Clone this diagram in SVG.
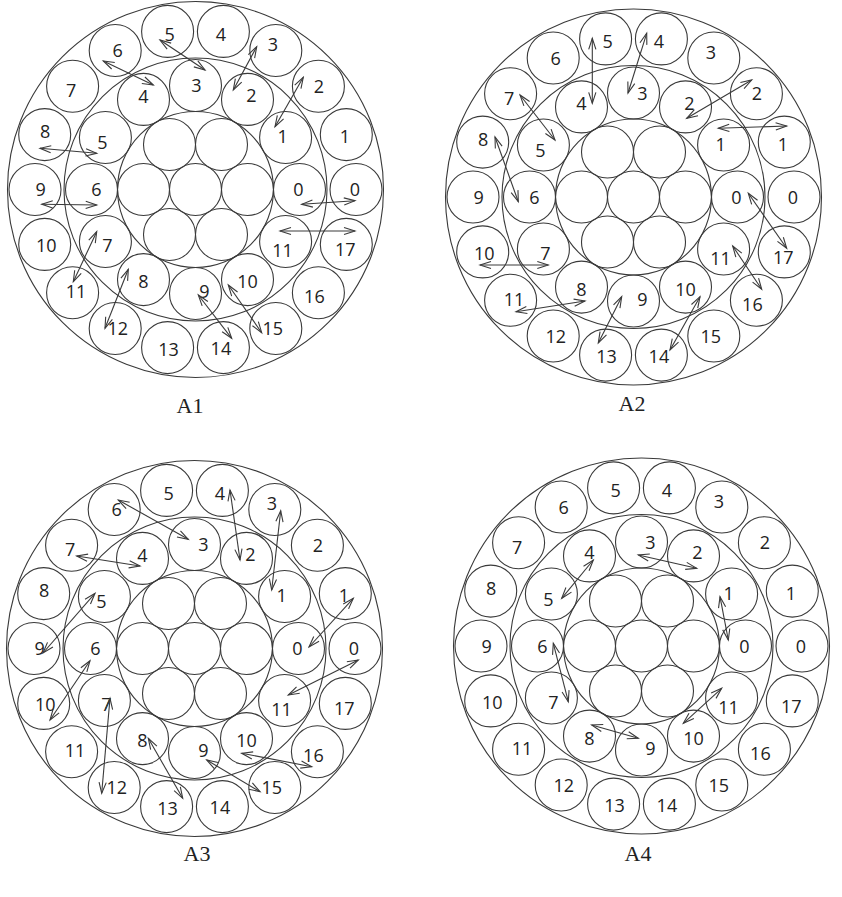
<svg xmlns="http://www.w3.org/2000/svg" xmlns:xlink="http://www.w3.org/1999/xlink" width="842" height="897" viewBox="0 0 842 897">
<defs>
<style>
.c{fill:none;stroke:#3a3a3a;stroke-width:1.1}
.t{font-family:"Open Sans","Noto Sans",sans-serif;font-size:18px;fill:#222;text-anchor:middle}
.ttl{font-family:"Liberation Serif","Times New Roman",serif;font-size:22px;fill:#222;text-anchor:middle}
.ar{fill:none;stroke:#3a3a3a;stroke-width:1.1;marker-start:url(#ah);marker-end:url(#ah)}
</style>
<marker id="ah" markerUnits="userSpaceOnUse" markerWidth="14" markerHeight="10" viewBox="-12 -5 14 10" refX="0" refY="0" orient="auto-start-reverse"><path d="M-11,-3.6 L0,0 L-11,3.6" fill="none" stroke="#3a3a3a" stroke-width="1.1"/></marker>
</defs>
<rect width="842" height="897" fill="#fff"/>

<!-- ================= A1 ================= -->
<g id="A1" transform="translate(195.5,189.5)">
<g id="a1-bounds"><circle class="c" r="188"/><circle class="c" r="131.5"/><circle class="c" r="78"/></g>
<g id="a1-core"><circle class="c" cx="0" cy="0" r="26"/><circle class="c" cx="-52" cy="0" r="26"/><circle class="c" cx="52" cy="0" r="26"/><circle class="c" cx="-26" cy="-45" r="26"/><circle class="c" cx="26" cy="-45" r="26"/><circle class="c" cx="-26" cy="45" r="26"/><circle class="c" cx="26" cy="45" r="26"/></g>
<g id="a1-o0"><circle class="c" cx="160.5" cy="0" r="26"/><text class="t" x="159.5" y="6.5">0</text></g>
<g id="a1-o1"><circle class="c" cx="150.8" cy="-54.9" r="26"/><text class="t" x="149.3" y="-46.4">1</text></g>
<g id="a1-o2"><circle class="c" cx="122.9" cy="-103.2" r="26"/><text class="t" x="123.4" y="-96.7">2</text></g>
<g id="a1-o3"><circle class="c" cx="80.3" cy="-139" r="26"/><text class="t" x="77.3" y="-138.5">3</text></g>
<g id="a1-o4"><circle class="c" cx="27.9" cy="-158.1" r="26"/><text class="t" x="25.4" y="-148.6">4</text></g>
<g id="a1-o5"><circle class="c" cx="-27.9" cy="-158.1" r="26"/><text class="t" x="-25.9" y="-148.6">5</text></g>
<g id="a1-o6"><circle class="c" cx="-80.3" cy="-139" r="26"/><text class="t" x="-77.8" y="-132.5">6</text></g>
<g id="a1-o7"><circle class="c" cx="-122.9" cy="-103.2" r="26"/><text class="t" x="-124.4" y="-92.2">7</text></g>
<g id="a1-o8"><circle class="c" cx="-150.8" cy="-54.9" r="26"/><text class="t" x="-150.3" y="-51.4">8</text></g>
<g id="a1-o9"><circle class="c" cx="-160.5" cy="0" r="26"/><text class="t" x="-154.8" y="6.5">9</text></g>
<g id="a1-o10"><circle class="c" cx="-150.8" cy="54.9" r="26"/><text class="t" x="-149.3" y="62.9">10</text></g>
<g id="a1-o11"><circle class="c" cx="-122.9" cy="103.2" r="26"/><text class="t" x="-119.4" y="108.7">11</text></g>
<g id="a1-o12"><circle class="c" cx="-80.3" cy="139" r="26"/><text class="t" x="-77.8" y="145.5">12</text></g>
<g id="a1-o13"><circle class="c" cx="-27.9" cy="158.1" r="26"/><text class="t" x="-26.9" y="166.1">13</text></g>
<g id="a1-o14"><circle class="c" cx="27.9" cy="158.1" r="26"/><text class="t" x="25.4" y="165.6">14</text></g>
<g id="a1-o15"><circle class="c" cx="80.3" cy="139" r="26"/><text class="t" x="77.3" y="145.5">15</text></g>
<g id="a1-o16"><circle class="c" cx="122.9" cy="103.2" r="26"/><text class="t" x="118.9" y="113.7">16</text></g>
<g id="a1-o17"><circle class="c" cx="150.8" cy="54.9" r="26"/><text class="t" x="149.8" y="66.9">17</text></g>
<g id="a1-m0"><circle class="c" cx="104" cy="0" r="26"/><text class="t" x="103" y="6.5">0</text></g>
<g id="a1-m1"><circle class="c" cx="90.1" cy="-52" r="26"/><text class="t" x="87.1" y="-46.5">1</text></g>
<g id="a1-m2"><circle class="c" cx="52" cy="-90.1" r="26"/><text class="t" x="56" y="-87.1">2</text></g>
<g id="a1-m3"><circle class="c" cx="0" cy="-104" r="26"/><text class="t" x="1" y="-97.5">3</text></g>
<g id="a1-m4"><circle class="c" cx="-52" cy="-90.1" r="26"/><text class="t" x="-52" y="-86.6">4</text></g>
<g id="a1-m5"><circle class="c" cx="-90.1" cy="-52" r="26"/><text class="t" x="-93.1" y="-40.5">5</text></g>
<g id="a1-m6"><circle class="c" cx="-104" cy="0" r="26"/><text class="t" x="-99" y="6.5">6</text></g>
<g id="a1-m7"><circle class="c" cx="-90.1" cy="52" r="26"/><text class="t" x="-88.1" y="62.5">7</text></g>
<g id="a1-m8"><circle class="c" cx="-52" cy="90.1" r="26"/><text class="t" x="-52" y="98.6">8</text></g>
<g id="a1-m9"><circle class="c" cx="0" cy="104" r="26"/><text class="t" x="9" y="108.5">9</text></g>
<g id="a1-m10"><circle class="c" cx="52" cy="90.1" r="26"/><text class="t" x="52" y="98.6">10</text></g>
<g id="a1-m11"><circle class="c" cx="90.1" cy="52" r="26"/><text class="t" x="87.1" y="67.5">11</text></g>
</g>

<!-- ================= A2 ================= -->
<g id="A2" transform="translate(633.5,197)">
<g id="a2-bounds"><circle class="c" r="188"/><circle class="c" r="131.5"/><circle class="c" r="78"/></g>
<g id="a2-core"><circle class="c" cx="0" cy="0" r="26"/><circle class="c" cx="-52" cy="0" r="26"/><circle class="c" cx="52" cy="0" r="26"/><circle class="c" cx="-26" cy="-45" r="26"/><circle class="c" cx="26" cy="-45" r="26"/><circle class="c" cx="-26" cy="45" r="26"/><circle class="c" cx="26" cy="45" r="26"/></g>
<g id="a2-o0"><circle class="c" cx="160.5" cy="0" r="26"/><text class="t" x="159.5" y="6.5">0</text></g>
<g id="a2-o1"><circle class="c" cx="150.8" cy="-54.9" r="26"/><text class="t" x="149.3" y="-46.4">1</text></g>
<g id="a2-o2"><circle class="c" cx="122.9" cy="-103.2" r="26"/><text class="t" x="123.4" y="-96.7">2</text></g>
<g id="a2-o3"><circle class="c" cx="80.3" cy="-139" r="26"/><text class="t" x="77.3" y="-138.5">3</text></g>
<g id="a2-o4"><circle class="c" cx="27.9" cy="-158.1" r="26"/><text class="t" x="25.4" y="-148.6">4</text></g>
<g id="a2-o5"><circle class="c" cx="-27.9" cy="-158.1" r="26"/><text class="t" x="-25.9" y="-148.6">5</text></g>
<g id="a2-o6"><circle class="c" cx="-80.3" cy="-139" r="26"/><text class="t" x="-77.8" y="-132.5">6</text></g>
<g id="a2-o7"><circle class="c" cx="-122.9" cy="-103.2" r="26"/><text class="t" x="-124.4" y="-92.2">7</text></g>
<g id="a2-o8"><circle class="c" cx="-150.8" cy="-54.9" r="26"/><text class="t" x="-150.3" y="-51.4">8</text></g>
<g id="a2-o9"><circle class="c" cx="-160.5" cy="0" r="26"/><text class="t" x="-154.8" y="6.5">9</text></g>
<g id="a2-o10"><circle class="c" cx="-150.8" cy="54.9" r="26"/><text class="t" x="-149.3" y="62.9">10</text></g>
<g id="a2-o11"><circle class="c" cx="-122.9" cy="103.2" r="26"/><text class="t" x="-119.4" y="108.7">11</text></g>
<g id="a2-o12"><circle class="c" cx="-80.3" cy="139" r="26"/><text class="t" x="-77.8" y="145.5">12</text></g>
<g id="a2-o13"><circle class="c" cx="-27.9" cy="158.1" r="26"/><text class="t" x="-26.9" y="166.1">13</text></g>
<g id="a2-o14"><circle class="c" cx="27.9" cy="158.1" r="26"/><text class="t" x="25.4" y="165.6">14</text></g>
<g id="a2-o15"><circle class="c" cx="80.3" cy="139" r="26"/><text class="t" x="77.3" y="145.5">15</text></g>
<g id="a2-o16"><circle class="c" cx="122.9" cy="103.2" r="26"/><text class="t" x="118.9" y="113.7">16</text></g>
<g id="a2-o17"><circle class="c" cx="150.8" cy="54.9" r="26"/><text class="t" x="149.8" y="66.9">17</text></g>
<g id="a2-m0"><circle class="c" cx="104" cy="0" r="26"/><text class="t" x="103" y="6.5">0</text></g>
<g id="a2-m1"><circle class="c" cx="90.1" cy="-52" r="26"/><text class="t" x="87.1" y="-46.5">1</text></g>
<g id="a2-m2"><circle class="c" cx="52" cy="-90.1" r="26"/><text class="t" x="56" y="-87.1">2</text></g>
<g id="a2-m3"><circle class="c" cx="0" cy="-104" r="26"/><text class="t" x="9" y="-97.5">3</text></g>
<g id="a2-m4"><circle class="c" cx="-52" cy="-90.1" r="26"/><text class="t" x="-52" y="-86.6">4</text></g>
<g id="a2-m5"><circle class="c" cx="-90.1" cy="-52" r="26"/><text class="t" x="-93.1" y="-40.5">5</text></g>
<g id="a2-m6"><circle class="c" cx="-104" cy="0" r="26"/><text class="t" x="-99" y="6.5">6</text></g>
<g id="a2-m7"><circle class="c" cx="-90.1" cy="52" r="26"/><text class="t" x="-88.1" y="62.5">7</text></g>
<g id="a2-m8"><circle class="c" cx="-52" cy="90.1" r="26"/><text class="t" x="-52" y="98.6">8</text></g>
<g id="a2-m9"><circle class="c" cx="0" cy="104" r="26"/><text class="t" x="9" y="108.5">9</text></g>
<g id="a2-m10"><circle class="c" cx="52" cy="90.1" r="26"/><text class="t" x="52" y="98.6">10</text></g>
<g id="a2-m11"><circle class="c" cx="90.1" cy="52" r="26"/><text class="t" x="87.1" y="67.5">11</text></g>
</g>

<!-- ================= A3 ================= -->
<g id="A3" transform="translate(194.5,648.5)">
<g id="a3-bounds"><circle class="c" r="188"/><circle class="c" r="131.5"/><circle class="c" r="78"/></g>
<g id="a3-core"><circle class="c" cx="0" cy="0" r="26"/><circle class="c" cx="-52" cy="0" r="26"/><circle class="c" cx="52" cy="0" r="26"/><circle class="c" cx="-26" cy="-45" r="26"/><circle class="c" cx="26" cy="-45" r="26"/><circle class="c" cx="-26" cy="45" r="26"/><circle class="c" cx="26" cy="45" r="26"/></g>
<g id="a3-o0"><circle class="c" cx="160.5" cy="0" r="26"/><text class="t" x="159.5" y="6.5">0</text></g>
<g id="a3-o1"><circle class="c" cx="150.8" cy="-54.9" r="26"/><text class="t" x="149.3" y="-46.4">1</text></g>
<g id="a3-o2"><circle class="c" cx="122.9" cy="-103.2" r="26"/><text class="t" x="123.4" y="-96.7">2</text></g>
<g id="a3-o3"><circle class="c" cx="80.3" cy="-139" r="26"/><text class="t" x="77.3" y="-138.5">3</text></g>
<g id="a3-o4"><circle class="c" cx="27.9" cy="-158.1" r="26"/><text class="t" x="25.4" y="-148.6">4</text></g>
<g id="a3-o5"><circle class="c" cx="-27.9" cy="-158.1" r="26"/><text class="t" x="-25.9" y="-148.6">5</text></g>
<g id="a3-o6"><circle class="c" cx="-80.3" cy="-139" r="26"/><text class="t" x="-77.8" y="-132.5">6</text></g>
<g id="a3-o7"><circle class="c" cx="-122.9" cy="-103.2" r="26"/><text class="t" x="-124.4" y="-92.2">7</text></g>
<g id="a3-o8"><circle class="c" cx="-150.8" cy="-54.9" r="26"/><text class="t" x="-150.3" y="-51.4">8</text></g>
<g id="a3-o9"><circle class="c" cx="-160.5" cy="0" r="26"/><text class="t" x="-154.8" y="6.5">9</text></g>
<g id="a3-o10"><circle class="c" cx="-150.8" cy="54.9" r="26"/><text class="t" x="-149.3" y="62.9">10</text></g>
<g id="a3-o11"><circle class="c" cx="-122.9" cy="103.2" r="26"/><text class="t" x="-119.4" y="108.7">11</text></g>
<g id="a3-o12"><circle class="c" cx="-80.3" cy="139" r="26"/><text class="t" x="-77.8" y="145.5">12</text></g>
<g id="a3-o13"><circle class="c" cx="-27.9" cy="158.1" r="26"/><text class="t" x="-26.9" y="166.1">13</text></g>
<g id="a3-o14"><circle class="c" cx="27.9" cy="158.1" r="26"/><text class="t" x="25.4" y="165.6">14</text></g>
<g id="a3-o15"><circle class="c" cx="80.3" cy="139" r="26"/><text class="t" x="77.3" y="145.5">15</text></g>
<g id="a3-o16"><circle class="c" cx="122.9" cy="103.2" r="26"/><text class="t" x="118.9" y="113.7">16</text></g>
<g id="a3-o17"><circle class="c" cx="150.8" cy="54.9" r="26"/><text class="t" x="149.8" y="66.9">17</text></g>
<g id="a3-m0"><circle class="c" cx="104" cy="0" r="26"/><text class="t" x="103" y="6.5">0</text></g>
<g id="a3-m1"><circle class="c" cx="90.1" cy="-52" r="26"/><text class="t" x="87.1" y="-46.5">1</text></g>
<g id="a3-m2"><circle class="c" cx="52" cy="-90.1" r="26"/><text class="t" x="56" y="-87.1">2</text></g>
<g id="a3-m3"><circle class="c" cx="0" cy="-104" r="26"/><text class="t" x="9" y="-97.5">3</text></g>
<g id="a3-m4"><circle class="c" cx="-52" cy="-90.1" r="26"/><text class="t" x="-52" y="-86.6">4</text></g>
<g id="a3-m5"><circle class="c" cx="-90.1" cy="-52" r="26"/><text class="t" x="-93.1" y="-40.5">5</text></g>
<g id="a3-m6"><circle class="c" cx="-104" cy="0" r="26"/><text class="t" x="-99" y="6.5">6</text></g>
<g id="a3-m7"><circle class="c" cx="-90.1" cy="52" r="26"/><text class="t" x="-88.1" y="62.5">7</text></g>
<g id="a3-m8"><circle class="c" cx="-52" cy="90.1" r="26"/><text class="t" x="-52" y="98.6">8</text></g>
<g id="a3-m9"><circle class="c" cx="0" cy="104" r="26"/><text class="t" x="9" y="108.5">9</text></g>
<g id="a3-m10"><circle class="c" cx="52" cy="90.1" r="26"/><text class="t" x="52" y="98.6">10</text></g>
<g id="a3-m11"><circle class="c" cx="90.1" cy="52" r="26"/><text class="t" x="87.1" y="67.5">11</text></g>
</g>

<!-- ================= A4 ================= -->
<g id="A4" transform="translate(641.5,646)">
<g id="a4-bounds"><circle class="c" r="188"/><circle class="c" r="131.5"/><circle class="c" r="78"/></g>
<g id="a4-core"><circle class="c" cx="0" cy="0" r="26"/><circle class="c" cx="-52" cy="0" r="26"/><circle class="c" cx="52" cy="0" r="26"/><circle class="c" cx="-26" cy="-45" r="26"/><circle class="c" cx="26" cy="-45" r="26"/><circle class="c" cx="-26" cy="45" r="26"/><circle class="c" cx="26" cy="45" r="26"/></g>
<g id="a4-o0"><circle class="c" cx="160.5" cy="0" r="26"/><text class="t" x="159.5" y="6.5">0</text></g>
<g id="a4-o1"><circle class="c" cx="150.8" cy="-54.9" r="26"/><text class="t" x="149.3" y="-46.4">1</text></g>
<g id="a4-o2"><circle class="c" cx="122.9" cy="-103.2" r="26"/><text class="t" x="123.4" y="-96.7">2</text></g>
<g id="a4-o3"><circle class="c" cx="80.3" cy="-139" r="26"/><text class="t" x="77.3" y="-138.5">3</text></g>
<g id="a4-o4"><circle class="c" cx="27.9" cy="-158.1" r="26"/><text class="t" x="25.4" y="-148.6">4</text></g>
<g id="a4-o5"><circle class="c" cx="-27.9" cy="-158.1" r="26"/><text class="t" x="-25.9" y="-148.6">5</text></g>
<g id="a4-o6"><circle class="c" cx="-80.3" cy="-139" r="26"/><text class="t" x="-77.8" y="-132.5">6</text></g>
<g id="a4-o7"><circle class="c" cx="-122.9" cy="-103.2" r="26"/><text class="t" x="-124.4" y="-92.2">7</text></g>
<g id="a4-o8"><circle class="c" cx="-150.8" cy="-54.9" r="26"/><text class="t" x="-150.3" y="-51.4">8</text></g>
<g id="a4-o9"><circle class="c" cx="-160.5" cy="0" r="26"/><text class="t" x="-154.8" y="6.5">9</text></g>
<g id="a4-o10"><circle class="c" cx="-150.8" cy="54.9" r="26"/><text class="t" x="-149.3" y="62.9">10</text></g>
<g id="a4-o11"><circle class="c" cx="-122.9" cy="103.2" r="26"/><text class="t" x="-119.4" y="108.7">11</text></g>
<g id="a4-o12"><circle class="c" cx="-80.3" cy="139" r="26"/><text class="t" x="-77.8" y="145.5">12</text></g>
<g id="a4-o13"><circle class="c" cx="-27.9" cy="158.1" r="26"/><text class="t" x="-26.9" y="166.1">13</text></g>
<g id="a4-o14"><circle class="c" cx="27.9" cy="158.1" r="26"/><text class="t" x="25.4" y="165.6">14</text></g>
<g id="a4-o15"><circle class="c" cx="80.3" cy="139" r="26"/><text class="t" x="77.3" y="145.5">15</text></g>
<g id="a4-o16"><circle class="c" cx="122.9" cy="103.2" r="26"/><text class="t" x="118.9" y="113.7">16</text></g>
<g id="a4-o17"><circle class="c" cx="150.8" cy="54.9" r="26"/><text class="t" x="149.8" y="66.9">17</text></g>
<g id="a4-m0"><circle class="c" cx="104" cy="0" r="26"/><text class="t" x="103" y="6.5">0</text></g>
<g id="a4-m1"><circle class="c" cx="90.1" cy="-52" r="26"/><text class="t" x="87.1" y="-46.5">1</text></g>
<g id="a4-m2"><circle class="c" cx="52" cy="-90.1" r="26"/><text class="t" x="56" y="-87.1">2</text></g>
<g id="a4-m3"><circle class="c" cx="0" cy="-104" r="26"/><text class="t" x="9" y="-97.5">3</text></g>
<g id="a4-m4"><circle class="c" cx="-52" cy="-90.1" r="26"/><text class="t" x="-52" y="-86.6">4</text></g>
<g id="a4-m5"><circle class="c" cx="-90.1" cy="-52" r="26"/><text class="t" x="-93.1" y="-40.5">5</text></g>
<g id="a4-m6"><circle class="c" cx="-104" cy="0" r="26"/><text class="t" x="-99" y="6.5">6</text></g>
<g id="a4-m7"><circle class="c" cx="-90.1" cy="52" r="26"/><text class="t" x="-88.1" y="62.5">7</text></g>
<g id="a4-m8"><circle class="c" cx="-52" cy="90.1" r="26"/><text class="t" x="-52" y="98.6">8</text></g>
<g id="a4-m9"><circle class="c" cx="0" cy="104" r="26"/><text class="t" x="9" y="108.5">9</text></g>
<g id="a4-m10"><circle class="c" cx="52" cy="90.1" r="26"/><text class="t" x="52" y="98.6">10</text></g>
<g id="a4-m11"><circle class="c" cx="90.1" cy="52" r="26"/><text class="t" x="87.1" y="67.5">11</text></g>
</g>

<!-- ================= connectors ================= -->
<g id="connectors">
<g id="a1-arrows">
<line class="ar" x1="160" y1="40" x2="205" y2="70"/>
<line class="ar" x1="103.3" y1="61" x2="153.3" y2="85"/>
<line class="ar" x1="40" y1="148.3" x2="96.7" y2="153.3"/>
<line class="ar" x1="256.7" y1="46.7" x2="233.3" y2="90"/>
<line class="ar" x1="303.3" y1="77.3" x2="275" y2="126.7"/>
<line class="ar" x1="41.7" y1="204.3" x2="96.7" y2="205"/>
<line class="ar" x1="96.7" y1="231.7" x2="73.3" y2="281.7"/>
<line class="ar" x1="128.3" y1="269.3" x2="105" y2="328.3"/>
<line class="ar" x1="198.3" y1="295" x2="231.7" y2="338.3"/>
<line class="ar" x1="228.3" y1="285" x2="261.7" y2="332.7"/>
<line class="ar" x1="301.7" y1="204.3" x2="355" y2="200.7"/>
<line class="ar" x1="280" y1="231" x2="355" y2="231"/>
</g>
<g id="a2-arrows">
<line class="ar" x1="592.3" y1="38.3" x2="592.3" y2="103.3"/>
<line class="ar" x1="646.7" y1="33.3" x2="628" y2="93"/>
<line class="ar" x1="520" y1="95" x2="555" y2="140"/>
<line class="ar" x1="495" y1="137" x2="518.3" y2="201.7"/>
<line class="ar" x1="686.7" y1="118.3" x2="751.7" y2="80"/>
<line class="ar" x1="718.3" y1="128.3" x2="786.7" y2="126"/>
<line class="ar" x1="748.3" y1="193.3" x2="786.7" y2="248.3"/>
<line class="ar" x1="732.7" y1="246" x2="761.7" y2="289.3"/>
<line class="ar" x1="700" y1="296.7" x2="670" y2="350"/>
<line class="ar" x1="621.7" y1="296.7" x2="598.3" y2="343"/>
<line class="ar" x1="585" y1="301" x2="516" y2="311.7"/>
<line class="ar" x1="548.3" y1="265" x2="480" y2="265"/>
</g>
<g id="a3-arrows">
<line class="ar" x1="118.3" y1="500" x2="188.3" y2="539.3"/>
<line class="ar" x1="76.7" y1="556" x2="140" y2="566"/>
<line class="ar" x1="95" y1="593.3" x2="43" y2="653"/>
<line class="ar" x1="230" y1="490" x2="240" y2="560"/>
<line class="ar" x1="280.7" y1="510.7" x2="271.7" y2="590"/>
<line class="ar" x1="353.3" y1="598.3" x2="309" y2="647"/>
<line class="ar" x1="358.3" y1="660" x2="288.3" y2="695"/>
<line class="ar" x1="90" y1="660.7" x2="50" y2="720"/>
<line class="ar" x1="110" y1="698.3" x2="101.7" y2="793.3"/>
<line class="ar" x1="148.3" y1="738.3" x2="182.7" y2="798.3"/>
<line class="ar" x1="206.7" y1="760" x2="260" y2="791.7"/>
<line class="ar" x1="241.7" y1="753.3" x2="311.7" y2="766.7"/>
</g>
<g id="a4-arrows">
<line class="ar" x1="593.3" y1="560" x2="561.7" y2="598.3"/>
<line class="ar" x1="638.3" y1="555" x2="696.7" y2="568.3"/>
<line class="ar" x1="720" y1="596.7" x2="728.3" y2="640"/>
<line class="ar" x1="553.3" y1="643.3" x2="568.3" y2="701.7"/>
<line class="ar" x1="591.7" y1="725" x2="638.3" y2="738.3"/>
<line class="ar" x1="721.7" y1="688.3" x2="683.3" y2="723.3"/>
</g>
</g>

<g id="titles">
<text class="ttl" x="190" y="412.5">A1</text>
<text class="ttl" x="632" y="410.5">A2</text>
<text class="ttl" x="197" y="860.5">A3</text>
<text class="ttl" x="638" y="860.5">A4</text>
</g>
</svg>
